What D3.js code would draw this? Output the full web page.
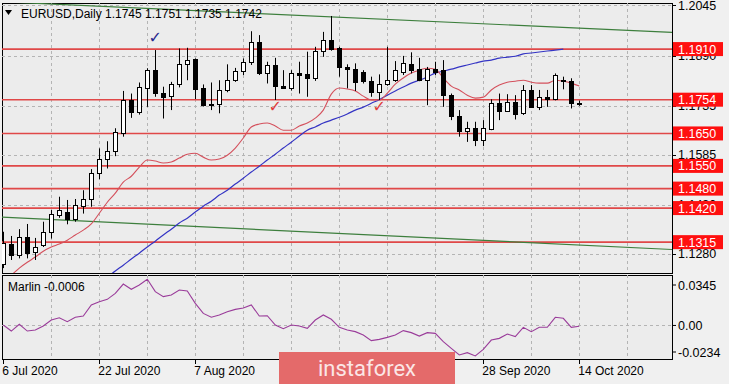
<!DOCTYPE html>
<html>
<head>
<meta charset="utf-8">
<script src="https://cdn.jsdelivr.net/npm/d3@7"></script>
<style>
  body { margin: 0; background: #f0f0f0; }
  svg { display: block; font-family: "Liberation Sans", Arial, sans-serif; }
</style>
</head>
<body>
<div id="chart"></div>
<script>
const width = 729;
const height = 384;

// daily bars, 6 Jul 2020 .. 14 Oct 2020
const open  = [1.1246,1.1309,1.1275,1.1331,1.1285,1.1306,1.1347,1.1400,1.1408,1.1386,1.1427,1.1450,1.1529,1.1571,1.1596,1.1650,1.1753,1.1715,1.1789,1.1845,
               1.1775,1.1763,1.1801,1.1863,1.1878,1.1790,1.1737,1.1740,1.1783,1.1814,1.1842,1.1869,1.1931,1.1835,1.1861,1.1796,1.1790,1.1835,1.1833,1.1820,
               1.1904,1.1938,1.1912,1.1855,1.1850,1.1838,1.1812,1.1777,1.1801,1.1814,1.1838,1.1864,1.1848,1.1814,1.1848,1.1845,1.1768,1.1705,1.1658,1.1668,
               1.1630,1.1664,1.1744,1.1720,1.1748,1.1712,1.1784,1.1730,1.1761,1.1757,1.1814,1.1812,1.1745];
const high  = [1.1347,1.1334,1.1355,1.1371,1.1328,1.1378,1.1414,1.1455,1.1445,1.1448,1.1475,1.1540,1.1604,1.1626,1.1666,1.1781,1.1773,1.1807,1.1851,1.1907,
               1.1794,1.1809,1.1912,1.1914,1.1881,1.1801,1.1807,1.1814,1.1863,1.1852,1.1881,1.1965,1.1953,1.1871,1.1883,1.1845,1.1845,1.1871,1.1902,1.1917,
               1.1963,1.2012,1.1917,1.1863,1.1866,1.1845,1.1825,1.1832,1.1917,1.1873,1.1889,1.1900,1.1883,1.1855,1.1871,1.1876,1.1773,1.1722,1.1686,1.1686,
               1.1691,1.1755,1.1773,1.1771,1.1768,1.1799,1.1799,1.1784,1.1784,1.1835,1.1825,1.1820,1.1751];
const low   = [1.1235,1.1260,1.1265,1.1265,1.1260,1.1300,1.1326,1.1390,1.1370,1.1378,1.1403,1.1424,1.1509,1.1542,1.1580,1.1640,1.1698,1.1708,1.1732,1.1763,
               1.1696,1.1722,1.1792,1.1814,1.1756,1.1733,1.1722,1.1712,1.1777,1.1809,1.1830,1.1861,1.1830,1.1804,1.1753,1.1787,1.1782,1.1773,1.1763,1.1812,
               1.1886,1.1905,1.1825,1.1789,1.1781,1.1804,1.1763,1.1753,1.1797,1.1809,1.1830,1.1835,1.1811,1.1737,1.1830,1.1732,1.1691,1.1640,1.1624,1.1611,
               1.1611,1.1660,1.1691,1.1717,1.1693,1.1707,1.1730,1.1722,1.1732,1.1752,1.1786,1.1727,1.1735];
const close = [1.1311,1.1275,1.1331,1.1282,1.1300,1.1345,1.1403,1.1414,1.1385,1.1429,1.1448,1.1529,1.1571,1.1596,1.1655,1.1753,1.1715,1.1792,1.1845,1.1775,
               1.1762,1.1801,1.1863,1.1876,1.1787,1.1737,1.1740,1.1783,1.1814,1.1842,1.1869,1.1931,1.1835,1.1861,1.1797,1.1791,1.1835,1.1830,1.1820,1.1904,
               1.1938,1.1910,1.1852,1.1850,1.1809,1.1811,1.1777,1.1801,1.1814,1.1845,1.1866,1.1845,1.1814,1.1848,1.1838,1.1768,1.1703,1.1658,1.1666,1.1632,
               1.1666,1.1744,1.1720,1.1748,1.1712,1.1784,1.1732,1.1761,1.1756,1.1830,1.1811,1.1743,1.1742];

// fast (red) and slow (blue) moving averages, null where off the chart
const fastMA = [null,1.1213,1.1235,1.1253,1.1269,1.1287,1.1300,1.1309,1.1321,1.1337,1.1352,1.1371,1.1404,1.1438,1.1466,1.1500,1.1518,1.1546,1.1568,1.1565,
                1.1559,1.1562,1.1574,1.1586,1.1589,1.1577,1.1568,1.1571,1.1583,1.1605,1.1636,1.1670,1.1679,1.1682,1.1673,1.1660,1.1660,1.1673,1.1682,1.1697,
                1.1722,1.1771,1.1790,1.1787,1.1781,1.1765,1.1753,1.1753,1.1774,1.1802,1.1821,1.1836,1.1845,1.1851,1.1848,1.1821,1.1796,1.1784,1.1768,1.1759,
                1.1762,1.1784,1.1799,1.1808,1.1811,1.1814,1.1808,1.1805,1.1805,1.1814,1.1811,1.1805,1.1796];
const slowMA = [null,null,null,null,null,null,null,null,null,null,null,null,null,1.1207,1.1226,1.1244,1.1263,1.1281,1.1300,1.1318,
                1.1337,1.1355,1.1374,1.1389,1.1408,1.1426,1.1441,1.1460,1.1475,1.1494,1.1512,1.1531,1.1549,1.1568,1.1586,1.1605,1.1623,1.1642,1.1660,1.1670,
                1.1682,1.1691,1.1700,1.1710,1.1722,1.1731,1.1743,1.1754,1.1768,1.1781,1.1793,1.1805,1.1814,1.1824,1.1836,1.1842,1.1848,1.1855,1.1861,1.1867,
                1.1873,1.1876,1.1882,1.1885,1.1888,1.1895,1.1898,1.1901,1.1904,1.1907,1.1910,null,null];

// Marlin oscillator
const marlin = [0.0003,-0.0039,0.0008,-0.0039,-0.0032,-0.0004,0.0038,0.0054,0.0026,0.0057,0.0066,0.0143,0.0166,0.0182,0.0224,0.0289,0.0252,0.0282,0.0322,0.0236,
                0.0201,0.0212,0.0247,0.0240,0.0154,0.0084,0.0057,0.0073,0.0096,0.0112,0.0122,0.0143,0.0066,0.0068,0.0003,-0.0023,0.0003,-0.0004,-0.0020,0.0038,
                0.0073,0.0043,-0.0013,-0.0032,-0.0043,-0.0067,-0.0106,-0.0097,-0.0083,-0.0067,-0.0036,-0.0050,-0.0074,-0.0050,-0.0055,-0.0113,-0.0160,-0.0206,-0.0190,-0.0213,
                -0.0167,-0.0102,-0.0090,-0.0060,-0.0078,-0.0013,-0.0043,-0.0013,-0.0013,0.0057,0.0050,-0.0013,-0.0006];

const levels = [1.1910, 1.1754, 1.1650, 1.1550, 1.1480, 1.1420, 1.1315];
const priceTicks = [1.2045, 1.1890, 1.1735, 1.1585, 1.1430, 1.1280];
const oscTicks = [0.0345, 0.00, -0.0234];
const oscTickLabels = ['0.0345', '0.00', '-0.0234'];
const upperTrend = [[28, 1.2024], [83, 1.1962]];
const lowerTrend = [[0, 1.1392], [83, 1.1293]];
const dateLabels = ['6 Jul 2020', '22 Jul 2020', '7 Aug 2020', '25 Aug 2020', '10 Sep 2020', '28 Sep 2020', '14 Oct 2020'];
const dateLabelBars = [0, 12, 24, 36, 48, 60, 72];
const gridBars = d3.range(0, 80, 6);
const blueChecks = [[19, 1.1946]];
const redChecks = [[34, 1.1735], [47, 1.1735]];

const plot = { left: 2, right: 672, top: 3, bottom: 273 };
const sub = { top: 275, bottom: 359 };

const x = d3.scaleLinear().domain([0, 83]).range([3.3, 667.3]);
const y = d3.scaleLinear().domain([1.1223, 1.2052]).range([272, 3]);
const yo = d3.scaleLinear().domain([-0.0234, 0.0345]).range([sub.bottom, sub.top + 1]);
const px = i => Math.round(x(i)) + 0.5;

const svg = d3.select('#chart').append('svg')
  .attr('width', width).attr('height', height);

svg.append('rect').attr('width', width).attr('height', height).attr('fill', '#f0f0f0');

const defs = svg.append('defs');
defs.append('clipPath').attr('id', 'main-clip').append('rect')
  .attr('x', plot.left).attr('y', plot.top).attr('width', plot.right - plot.left).attr('height', plot.bottom - plot.top);
defs.append('clipPath').attr('id', 'sub-clip').append('rect')
  .attr('x', plot.left).attr('y', sub.top).attr('width', plot.right - plot.left).attr('height', sub.bottom - sub.top);

// panels
svg.append('rect').attr('x', plot.left + 0.5).attr('y', plot.top + 0.5)
  .attr('width', plot.right - plot.left).attr('height', plot.bottom - plot.top)
  .attr('fill', '#ececec').attr('stroke', '#000');
svg.append('rect').attr('x', plot.left + 0.5).attr('y', sub.top + 0.5)
  .attr('width', plot.right - plot.left).attr('height', sub.bottom - sub.top)
  .attr('fill', '#ececec').attr('stroke', '#000');

const main = svg.append('g').attr('clip-path', 'url(#main-clip)');
const lower = svg.append('g').attr('clip-path', 'url(#sub-clip)');

// grid
main.selectAll('.hgrid').data(priceTicks).join('line')
  .attr('x1', plot.left).attr('x2', plot.right)
  .attr('y1', d => Math.round(y(d)) + 0.5).attr('y2', d => Math.round(y(d)) + 0.5)
  .attr('stroke', '#b4b4b4').attr('stroke-dasharray', '3,3');
[main, lower].forEach((g, k) => {
  g.selectAll('.vgrid').data(gridBars.slice(1)).join('line')
    .attr('x1', d => px(d)).attr('x2', d => px(d))
    .attr('y1', k ? sub.top : plot.top).attr('y2', k ? sub.bottom : plot.bottom)
    .attr('stroke', '#b4b4b4').attr('stroke-dasharray', '3,3');
});
lower.append('line')
  .attr('x1', plot.left).attr('x2', plot.right)
  .attr('y1', Math.round(yo(0)) + 0.5).attr('y2', Math.round(yo(0)) + 0.5)
  .attr('stroke', '#b4b4b4').attr('stroke-dasharray', '3,3');

// header
svg.append('path').attr('d', 'M5,10 L12,10 L8.5,15 Z').attr('fill', '#000');
svg.append('text').attr('x', 21).attr('y', 18).attr('font-size', 12)
  .text('EURUSD,Daily  ' + [open[72], high[72], low[72], close[72]].map(d => d.toFixed(4)).join(' '));

// horizontal levels
main.selectAll('.level').data(levels).join('line')
  .attr('x1', plot.left).attr('x2', plot.right)
  .attr('y1', d => y(d)).attr('y2', d => y(d))
  .attr('stroke', '#e04848').attr('stroke-width', 1.6);

// trend lines
const trend = pts => {
  const s = (pts[1][1] - pts[0][1]) / (pts[1][0] - pts[0][0]);
  return [-2, 86].map(i => [x(i), y(pts[0][1] + s * (i - pts[0][0]))]);
};
[upperTrend, lowerTrend].forEach(t => {
  main.append('path').attr('d', d3.line()(trend(t)))
    .attr('fill', 'none').attr('stroke', '#3d7f3d').attr('stroke-width', 1.2);
});

// moving averages
const maLine = d3.line().defined(d => d[1] != null).x(d => x(d[0])).y(d => y(d[1])).curve(d3.curveMonotoneX);
main.append('path').attr('d', maLine(slowMA.map((v, i) => [i, v])))
  .attr('fill', 'none').attr('stroke', '#3434c4').attr('stroke-width', 1.2);
main.append('path').attr('d', maLine(fastMA.map((v, i) => [i, v])))
  .attr('fill', 'none').attr('stroke', '#d4505c').attr('stroke-width', 1.1);

// candles
const bars = d3.range(open.length);
main.selectAll('.wick').data(bars).join('line')
  .attr('x1', px).attr('x2', px)
  .attr('y1', i => y(high[i])).attr('y2', i => y(low[i]))
  .attr('stroke', '#000');
main.selectAll('.body').data(bars).join('rect')
  .attr('x', i => px(i) - 2).attr('width', 4)
  .attr('y', i => Math.round(y(Math.max(open[i], close[i]))) + 0.5)
  .attr('height', i => Math.max(0.5, Math.round(Math.abs(y(open[i]) - y(close[i])))))
  .attr('fill', i => close[i] >= open[i] ? '#fff' : '#000')
  .attr('stroke', '#000');

// check marks
main.selectAll('.bcheck').data(blueChecks).join('text')
  .attr('x', d => x(d[0])).attr('y', d => y(d[1]) + 6)
  .attr('text-anchor', 'middle').attr('font-size', 16).attr('font-weight', 'bold').attr('font-family', 'DejaVu Sans')
  .attr('fill', '#28288e').text('✓');
main.selectAll('.rcheck').data(redChecks).join('text')
  .attr('x', d => x(d[0])).attr('y', d => y(d[1]) + 6)
  .attr('text-anchor', 'middle').attr('font-size', 16).attr('font-weight', 'bold').attr('font-family', 'DejaVu Sans')
  .attr('fill', '#e03a3a').text('✓');

// oscillator
lower.append('path')
  .attr('d', d3.line().x((d, i) => x(i)).y(d => yo(d))(marlin))
  .attr('fill', 'none').attr('stroke', '#9a3c9a').attr('stroke-width', 1.1);
svg.append('text').attr('x', 8).attr('y', 291).attr('font-size', 12)
  .text('Marlin ' + marlin[marlin.length - 1].toFixed(4));

// right price axis
svg.selectAll('.ptick').data(priceTicks).join('line')
  .attr('x1', plot.right).attr('x2', plot.right + 4)
  .attr('y1', d => Math.round(y(d)) + 0.5).attr('y2', d => Math.round(y(d)) + 0.5)
  .attr('stroke', '#000');
svg.selectAll('.plabel').data(priceTicks).join('text')
  .attr('x', 678).attr('y', d => y(d) + 4.5).attr('font-size', 12.5)
  .text(d => d.toFixed(4));
const lv = svg.selectAll('.lvl').data(levels).join('g');
lv.append('rect').attr('x', 673).attr('y', d => y(d) - 7).attr('width', 50).attr('height', 14).attr('fill', '#ff1010');
lv.append('text').attr('x', 678).attr('y', d => y(d) + 4.5).attr('font-size', 12.5).attr('fill', '#fff')
  .text(d => d.toFixed(4));

// oscillator axis
svg.selectAll('.otick').data(oscTicks).join('line')
  .attr('x1', plot.right).attr('x2', plot.right + 4)
  .attr('y1', d => Math.min(Math.max(yo(d), 285), 352)).attr('y2', d => Math.min(Math.max(yo(d), 285), 352))
  .attr('stroke', '#000');
svg.selectAll('.olabel').data(oscTicks).join('text')
  .attr('x', 678).attr('y', d => Math.min(Math.max(yo(d), 285), 352) + 4.5).attr('font-size', 12.5)
  .text((d, i) => oscTickLabels[i]);

// date axis
svg.selectAll('.dtick').data(dateLabelBars).join('line')
  .attr('x1', px).attr('x2', px).attr('y1', sub.bottom).attr('y2', sub.bottom + 5)
  .attr('stroke', '#000');
svg.selectAll('.dlabel').data(dateLabelBars).join('text')
  .attr('x', i => x(i) - 1).attr('y', 375).attr('font-size', 12)
  .text((d, i) => dateLabels[i]);

// watermark
svg.append('rect').attr('x', 279).attr('y', 352).attr('width', 176).attr('height', 32).attr('fill', '#e46a6a');
svg.append('text').attr('x', 367).attr('y', 376).attr('text-anchor', 'middle')
  .attr('font-family', 'Roboto').attr('font-size', 22).attr('fill', '#fbe6e6')
  .text('instaforex');
</script>
</body>
</html>
